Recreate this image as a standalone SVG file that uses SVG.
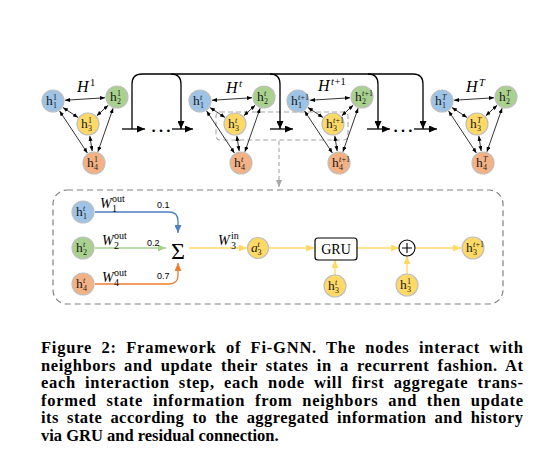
<svg xmlns="http://www.w3.org/2000/svg" width="557" height="471" viewBox="0 0 557 471">
<style>
.nb{fill:#9DC3E6;stroke:#BFBFBF;stroke-width:1.2}
.ng{fill:#A9D18E;stroke:#BFBFBF;stroke-width:1.2}
.ny{fill:#FFD966;stroke:#BFBFBF;stroke-width:1.2}
.no{fill:#F4B183;stroke:#BFBFBF;stroke-width:1.2}
.h{font-family:"Liberation Serif",serif;font-size:13.5px;fill:#1a1a1a}
.s{font-family:"Liberation Serif",serif;font-size:8px;fill:#1a1a1a}
.si{font-family:"Liberation Serif",serif;font-size:8px;font-style:italic;fill:#1a1a1a}
.HL{font-family:"Liberation Serif",serif;font-size:16px;font-style:italic;fill:#000}
.HS{font-family:"Liberation Serif",serif;font-size:10.5px;fill:#000}
.HSi{font-family:"Liberation Serif",serif;font-size:10.5px;font-style:italic;fill:#000}
.W{font-family:"Liberation Serif",serif;font-size:14px;font-style:italic;fill:#000}
.Ws{font-family:"Liberation Serif",serif;font-size:10px;fill:#000}
.num{font-family:"Liberation Sans",sans-serif;font-size:9px;fill:#000}
.cap{font-family:"Liberation Serif",serif;font-size:16.5px;font-weight:bold;fill:#000}
.e{stroke:#000;stroke-width:0.8;fill:none;marker-start:url(#as);marker-end:url(#as)}
.k{stroke:#000;stroke-width:1.3;fill:none}
.y{stroke:#FFD966;stroke-width:1.4;fill:none;marker-end:url(#ay)}
</style>
<defs>
<marker id="as" markerUnits="userSpaceOnUse" markerWidth="5" markerHeight="4" refX="5" refY="2" orient="auto-start-reverse"><path d="M0,0 L5,2 L0,4 z" fill="#000"/></marker>
<marker id="ak" markerUnits="userSpaceOnUse" markerWidth="8" markerHeight="7" refX="8" refY="3.5" orient="auto"><path d="M0,0 L8,3.5 L0,7 z" fill="#000"/></marker>
<marker id="agy" markerUnits="userSpaceOnUse" markerWidth="7" markerHeight="6" refX="7" refY="3" orient="auto"><path d="M0,0 L7,3 L0,6 z" fill="#A6A6A6"/></marker>
<marker id="ay" markerUnits="userSpaceOnUse" markerWidth="8" markerHeight="7" refX="8" refY="3.5" orient="auto"><path d="M0,0 L8,3.5 L0,7 z" fill="#FFD966"/></marker>
<marker id="abl" markerUnits="userSpaceOnUse" markerWidth="8" markerHeight="7" refX="8" refY="3.5" orient="auto"><path d="M0,0 L8,3.5 L0,7 z" fill="#4F7FC0"/></marker>
<marker id="agr" markerUnits="userSpaceOnUse" markerWidth="8" markerHeight="7" refX="8" refY="3.5" orient="auto"><path d="M0,0 L8,3.5 L0,7 z" fill="#A9D18E"/></marker>
<marker id="aor" markerUnits="userSpaceOnUse" markerWidth="8" markerHeight="7" refX="8" refY="3.5" orient="auto"><path d="M0,0 L8,3.5 L0,7 z" fill="#ED7D31"/></marker>
<g id="edges6">
<line class="e" x1="12" y1="-0.75" x2="52" y2="-3.25"/>
<line class="e" x1="10" y1="6.6" x2="25" y2="16.4"/>
<line class="e" x1="55.2" y1="4.2" x2="43.8" y2="14.8"/>
<line class="e" x1="6.6" y1="10" x2="34.4" y2="52"/>
<line class="e" x1="60.1" y1="7.3" x2="44.9" y2="50.7"/>
<line class="e" x1="36.8" y1="34.9" x2="39.2" y2="50.1"/>
</g>
</defs>
<rect width="557" height="471" fill="#fff"/>

<!-- dashed frames -->
<g id="frames">
<rect x="216" y="112" width="132" height="28" rx="4" fill="none" stroke="#A6A6A6" stroke-width="1.1" stroke-dasharray="5,3"/>
<rect x="53" y="190" width="450" height="114" rx="14" fill="none" stroke="#808080" stroke-width="1.2" stroke-dasharray="6,4"/>
</g>

<!-- connectors -->
<g id="connectors">
<use href="#edges6" transform="translate(53,101)"/>
<use href="#edges6" transform="translate(200,101)"/>
<use href="#edges6" transform="translate(298,101)"/>
<use href="#edges6" transform="translate(442,101)"/>
<path class="k" d="M122,129 H145" marker-end="url(#ak)"/>
<path class="k" d="M172,129 H193" marker-end="url(#ak)"/>
<path class="k" d="M270,129 H293" marker-end="url(#ak)"/>
<path class="k" d="M367,129 H390" marker-end="url(#ak)"/>
<path class="k" d="M414,129 H437" marker-end="url(#ak)"/>
<path class="k" d="M132,129 V84 Q132,74 142,74 H171 Q181,74 181,84 V129" marker-end="url(#ak)"/>
<path class="k" d="M171,74 H270 Q280,74 280,84 V129" marker-end="url(#ak)"/>
<path class="k" d="M270,74 H368 Q378,74 378,84 V129" marker-end="url(#ak)"/>
<path class="k" d="M368,74 H413 Q423,74 423,84 V129" marker-end="url(#ak)"/>
<path d="M279,141 V187" stroke="#A6A6A6" stroke-width="1.1" stroke-dasharray="4,3" fill="none" marker-end="url(#agy)"/>
<path d="M95,212 H169 Q178,212 178,221 V233" stroke="#4F7FC0" stroke-width="1.3" fill="none" marker-end="url(#abl)"/>
<path d="M95,248 H166" stroke="#A9D18E" stroke-width="1.3" fill="none" marker-end="url(#agr)"/>
<path d="M95,284 H169 Q178,284 178,275 V263" stroke="#ED7D31" stroke-width="1.3" fill="none" marker-end="url(#aor)"/>
<path class="y" d="M189,248 H247"/>
<path class="y" d="M269,248 H314"/>
<path class="y" d="M357,248 H399"/>
<path class="y" d="M415,248 H461"/>
<path class="y" d="M335,275 V260"/>
<path class="y" d="M407,274 V256"/>
</g>

<!-- ellipses -->
<text x="161" y="132" text-anchor="middle" font-family="Liberation Serif,serif" font-size="22" fill="#000">…</text>
<text x="403" y="132" text-anchor="middle" font-family="Liberation Serif,serif" font-size="22" fill="#000">…</text>

<!-- H labels -->
<g id="lab-H1"><text class="HL" x="77" y="92">H</text><text class="HS" x="90" y="86">1</text></g>
<g id="lab-Ht"><text class="HL" x="226" y="93">H</text><text class="HSi" x="239" y="87">t</text></g>
<g id="lab-Ht1"><text class="HL" x="318" y="91">H</text><text class="HSi" x="331" y="85">t</text><text class="HS" x="334.5" y="85">+1</text></g>
<g id="lab-HT"><text class="HL" x="466" y="92">H</text><text class="HSi" x="479" y="86">T</text></g>

<!-- step 1 nodes -->
<g transform="translate(53,101)">
<g id="n1-1"><circle class="nb" cx="0" cy="0" r="11"/><text class="h" x="-7" y="4">h</text><text class="s" x="0" y="-1">1</text><text class="s" x="0" y="6.5">1</text></g>
<g id="n1-2"><circle class="ng" cx="64" cy="-4" r="11"/><text class="h" x="57" y="0">h</text><text class="s" x="64" y="-5">1</text><text class="s" x="64" y="2.5">2</text></g>
<g id="n1-3"><circle class="ny" cx="35" cy="23" r="11"/><text class="h" x="28" y="27">h</text><text class="s" x="35" y="22">1</text><text class="s" x="35" y="29.5">3</text></g>
<g id="n1-4"><circle class="no" cx="41" cy="62" r="11"/><text class="h" x="34" y="66">h</text><text class="s" x="41" y="61">1</text><text class="s" x="41" y="68.5">4</text></g>
</g>
<!-- step t nodes -->
<g transform="translate(200,101)">
<g id="nt-1"><circle class="nb" cx="0" cy="0" r="11"/><text class="h" x="-7" y="4">h</text><text class="si" x="0" y="-1">t</text><text class="s" x="0" y="6.5">1</text></g>
<g id="nt-2"><circle class="ng" cx="64" cy="-4" r="11"/><text class="h" x="57" y="0">h</text><text class="si" x="64" y="-5">t</text><text class="s" x="64" y="2.5">2</text></g>
<g id="nt-3"><circle class="ny" cx="35" cy="23" r="11"/><text class="h" x="28" y="27">h</text><text class="si" x="35" y="22">t</text><text class="s" x="35" y="29.5">3</text></g>
<g id="nt-4"><circle class="no" cx="41" cy="62" r="11"/><text class="h" x="34" y="66">h</text><text class="si" x="41" y="61">t</text><text class="s" x="41" y="68.5">4</text></g>
</g>
<!-- step t+1 nodes -->
<g transform="translate(298,101)">
<g id="nt1-1"><circle class="nb" cx="0" cy="0" r="11"/><text class="h" x="-7" y="4">h</text><text class="si" x="0" y="-1">t</text><text class="s" x="2.5" y="-1">+1</text><text class="s" x="0" y="6.5">1</text></g>
<g id="nt1-2"><circle class="ng" cx="64" cy="-4" r="11"/><text class="h" x="57" y="0">h</text><text class="si" x="64" y="-5">t</text><text class="s" x="66.5" y="-5">+1</text><text class="s" x="64" y="2.5">2</text></g>
<g id="nt1-3"><circle class="ny" cx="35" cy="23" r="11"/><text class="h" x="28" y="27">h</text><text class="si" x="35" y="22">t</text><text class="s" x="37.5" y="22">+1</text><text class="s" x="35" y="29.5">3</text></g>
<g id="nt1-4"><circle class="no" cx="41" cy="62" r="11"/><text class="h" x="34" y="66">h</text><text class="si" x="41" y="61">t</text><text class="s" x="43.5" y="61">+1</text><text class="s" x="41" y="68.5">4</text></g>
</g>
<!-- step T nodes -->
<g transform="translate(442,101)">
<g id="nT-1"><circle class="nb" cx="0" cy="0" r="11"/><text class="h" x="-7" y="4">h</text><text class="si" x="0" y="-1">T</text><text class="s" x="0" y="6.5">1</text></g>
<g id="nT-2"><circle class="ng" cx="64" cy="-4" r="11"/><text class="h" x="57" y="0">h</text><text class="si" x="64" y="-5">T</text><text class="s" x="64" y="2.5">2</text></g>
<g id="nT-3"><circle class="ny" cx="35" cy="23" r="11"/><text class="h" x="28" y="27">h</text><text class="si" x="35" y="22">T</text><text class="s" x="35" y="29.5">3</text></g>
<g id="nT-4"><circle class="no" cx="41" cy="62" r="11"/><text class="h" x="34" y="66">h</text><text class="si" x="41" y="61">T</text><text class="s" x="41" y="68.5">4</text></g>
</g>

<!-- detail nodes -->
<g id="d-h1"><circle class="nb" cx="83" cy="212" r="11"/><text class="h" x="76" y="216">h</text><text class="si" x="83" y="211">t</text><text class="s" x="83" y="218.5">1</text></g>
<g id="d-h2"><circle class="ng" cx="83" cy="248" r="11"/><text class="h" x="76" y="252">h</text><text class="si" x="83" y="247">t</text><text class="s" x="83" y="254.5">2</text></g>
<g id="d-h4"><circle class="no" cx="83" cy="284" r="11"/><text class="h" x="76" y="288">h</text><text class="si" x="83" y="283">t</text><text class="s" x="83" y="290.5">4</text></g>
<g id="d-a3"><circle class="ny" cx="258" cy="248" r="10.5"/><text class="h" x="251" y="252" font-style="italic">a</text><text class="si" x="257.5" y="247">t</text><text class="s" x="257.5" y="254.5">3</text></g>
<g id="d-gru"><rect x="315" y="238" width="42" height="22" rx="3" fill="#fff" stroke="#000" stroke-width="1.2"/><text x="336" y="254" text-anchor="middle" font-family="Liberation Serif,serif" font-size="14" fill="#000">GRU</text></g>
<g id="d-plus"><circle cx="407" cy="248" r="8" fill="#fff" stroke="#000" stroke-width="1.1"/><path d="M402,248 H412 M407,243 V253" stroke="#000" stroke-width="1.1"/></g>
<g id="d-h3next"><circle class="ny" cx="473" cy="248" r="11"/><text class="h" x="466" y="252">h</text><text class="si" x="473" y="247">t</text><text class="s" x="475.5" y="247">+1</text><text class="s" x="473" y="254.5">3</text></g>
<g id="d-h3t"><circle class="ny" cx="335" cy="286" r="11"/><text class="h" x="328" y="290">h</text><text class="si" x="335" y="285">t</text><text class="s" x="335" y="292.5">3</text></g>
<g id="d-h31"><circle class="ny" cx="407" cy="285" r="11"/><text class="h" x="400" y="289">h</text><text class="s" x="407" y="284">1</text><text class="s" x="407" y="291.5">3</text></g>

<!-- weights and sigma -->
<g id="d-sigma"><text x="178" y="259" text-anchor="middle" font-family="Liberation Serif,serif" font-size="24" fill="#000">Σ</text></g>
<g id="lab-W1"><text class="W" x="100" y="208">W</text><text class="Ws" x="112" y="202">out</text><text class="Ws" x="112" y="212">1</text></g>
<g id="lab-W2"><text class="W" x="102" y="245">W</text><text class="Ws" x="114" y="239">out</text><text class="Ws" x="114" y="249">2</text></g>
<g id="lab-W4"><text class="W" x="102" y="282">W</text><text class="Ws" x="114" y="276">out</text><text class="Ws" x="114" y="286">4</text></g>
<g id="lab-W3"><text class="W" x="218" y="245">W</text><text class="Ws" x="231" y="239">in</text><text class="Ws" x="231" y="249">3</text></g>
<text class="num" x="157" y="208">0.1</text>
<text class="num" x="147" y="246">0.2</text>
<text class="num" x="157" y="279">0.7</text>

<!-- caption -->
<g id="caption">
<text class="cap" x="41" y="353" word-spacing="4.5" textLength="482" lengthAdjust="spacing">Figure 2: Framework of Fi-GNN. The nodes interact with</text>
<text class="cap" x="41" y="370.5" word-spacing="3.5" textLength="482" lengthAdjust="spacing">neighbors and update their states in a recurrent fashion. At</text>
<text class="cap" x="41" y="388" word-spacing="4.5" textLength="482" lengthAdjust="spacing">each interaction step, each node will first aggregate trans-</text>
<text class="cap" x="41" y="405.5" word-spacing="5" textLength="482" lengthAdjust="spacing">formed state information from neighbors and then update</text>
<text class="cap" x="41" y="423" word-spacing="3.5" textLength="482" lengthAdjust="spacing">its state according to the aggregated information and history</text>
<text class="cap" x="41" y="440.5">via GRU and residual connection.</text>
</g>
</svg>
